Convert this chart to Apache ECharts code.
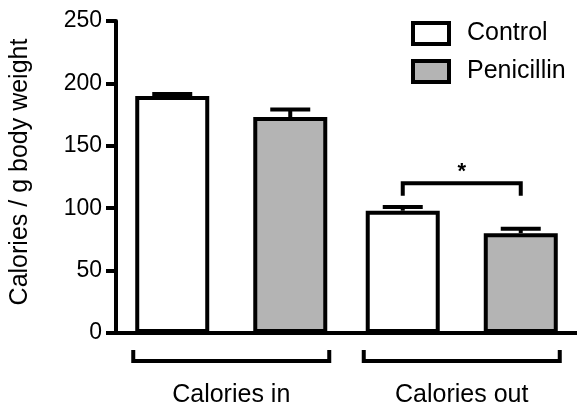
<!DOCTYPE html>
<html>
<head>
<meta charset="utf-8">
<title>Calories per gram body weight</title>
<script src="https://cdn.jsdelivr.net/npm/echarts@6/dist/echarts.min.js"></script>
<style>
  html, body { margin: 0; padding: 0; background: #fff; }
  #chart { width: 577px; height: 412px; }
</style>
</head>
<body>
<div id="chart"></div>
<script>
// ---- data ----
const categories = ['Calories in', 'Calories out'];
const seriesNames = ['Control', 'Penicillin'];
const controlMean = [190, 98];
const controlSem = [1.5, 3];
const penicillinMean = [173, 80];
const penicillinSem = [6, 3.5];
const yMin = 0;
const yMax = 250;
const yStep = 50;
const yTitle = 'Calories / g body weight';
// significance marker between the two groups of "Calories out"
const sigCategory = 1;
const sigTop = 120;
const sigFoot = 110;
const sigLabel = '*';

// ---- layout / style ----
const FONT = "'Liberation Sans', Arial, Helvetica, sans-serif";
const STROKE = 4;
const BAR_W = 74;
const BAR_GAP = 44;
const OFFSET = (BAR_W + BAR_GAP) / 2;
const CAP_HALF = 20;

const chart = echarts.init(document.getElementById('chart'), null, { renderer: 'canvas' });

function errorBarSeries(name, means, sems, dir) {
  return {
    name: name,
    type: 'custom',
    z: 5,
    silent: true,
    data: means.map((m, i) => [i, m, sems[i]]),
    encode: { x: 0, y: 1 },
    renderItem: function (params, api) {
      const base = api.coord([api.value(0), api.value(1)]);
      const top = api.coord([api.value(0), api.value(1) + api.value(2)]);
      const x = base[0] + dir * OFFSET;
      const style = { stroke: '#000', lineWidth: STROKE, fill: null };
      return {
        type: 'group',
        children: [
          { type: 'line', shape: { x1: x, y1: base[1], x2: x, y2: top[1] }, style: style },
          { type: 'line', shape: { x1: x - CAP_HALF, y1: top[1], x2: x + CAP_HALF, y2: top[1] }, style: style }
        ]
      };
    }
  };
}

const option = {
  animation: false,
  backgroundColor: '#fff',
  grid: { left: 116, right: -3, top: 21, bottom: 79, containLabel: false },
  legend: {
    data: seriesNames,
    orient: 'vertical',
    left: 411,
    top: 21,
    padding: 0,
    icon: 'rect',
    itemWidth: 36,
    itemHeight: 21,
    itemGap: 13,
    itemStyle: { borderColor: '#000', borderWidth: STROKE },
    textStyle: { fontFamily: FONT, fontSize: 25, color: '#000', lineHeight: 25, padding: [0, 0, 0, 13] },
    selectedMode: false
  },
  xAxis: {
    type: 'category',
    data: categories,
    axisLine: { lineStyle: { color: '#000', width: STROKE } },
    axisTick: { show: false },
    axisLabel: { fontFamily: FONT, fontSize: 25, color: '#000', margin: 50 },
    splitLine: { show: false }
  },
  yAxis: {
    type: 'value',
    min: yMin,
    max: yMax,
    interval: yStep,
    axisLine: { show: true, lineStyle: { color: '#000', width: STROKE } },
    axisTick: { show: true, length: 10, lineStyle: { color: '#000', width: STROKE } },
    axisLabel: { fontFamily: FONT, fontSize: 23, color: '#000', margin: 14 },
    splitLine: { show: false }
  },
  graphic: [
    {
      type: 'text',
      x: 20,
      y: 172,
      rotation: Math.PI / 2,
      style: {
        text: yTitle,
        font: '25px ' + FONT,
        fill: '#000',
        textAlign: 'center',
        textVerticalAlign: 'middle'
      }
    }
  ],
  series: [
    {
      name: seriesNames[0],
      type: 'bar',
      data: controlMean,
      barWidth: BAR_W,
      barGap: (BAR_GAP / BAR_W * 100).toFixed(1) + '%',
      itemStyle: { color: '#ffffff', borderColor: '#000', borderWidth: STROKE }
    },
    {
      name: seriesNames[1],
      type: 'bar',
      data: penicillinMean,
      barWidth: BAR_W,
      barGap: (BAR_GAP / BAR_W * 100).toFixed(1) + '%',
      itemStyle: { color: '#b4b4b4', borderColor: '#000', borderWidth: STROKE }
    },
    errorBarSeries('Control SEM', controlMean, controlSem, -1),
    errorBarSeries('Penicillin SEM', penicillinMean, penicillinSem, 1),
    {
      // group brackets under the axis
      name: 'group brackets',
      type: 'custom',
      silent: true,
      clip: false,
      data: categories.map((c, i) => [i, 0]),
      encode: { x: 0, y: 1 },
      renderItem: function (params, api) {
        const p = api.coord([api.value(0), 0]);
        const half = BAR_W + BAR_GAP / 2 + STROKE / 2;
        const yTop = p[1] + 17;
        const yBot = p[1] + 28;
        return {
          type: 'polyline',
          shape: { points: [[p[0] - half, yTop], [p[0] - half, yBot], [p[0] + half, yBot], [p[0] + half, yTop]] },
          style: { stroke: '#000', lineWidth: STROKE, fill: null, lineJoin: 'miter' }
        };
      }
    },
    {
      // significance bracket
      name: 'significance',
      type: 'custom',
      silent: true,
      z: 6,
      data: [[sigCategory, sigTop, sigFoot]],
      encode: { x: 0, y: 1 },
      renderItem: function (params, api) {
        const t = api.coord([api.value(0), api.value(1)]);
        const f = api.coord([api.value(0), api.value(2)]);
        const xl = t[0] - OFFSET;
        const xr = t[0] + OFFSET;
        return {
          type: 'group',
          children: [
            {
              type: 'polyline',
              shape: { points: [[xl, f[1]], [xl, t[1]], [xr, t[1]], [xr, f[1]]] },
              style: { stroke: '#000', lineWidth: STROKE, fill: null, lineJoin: 'miter' }
            },
            {
              type: 'text',
              x: t[0],
              y: t[1] - 11,
              style: {
                text: sigLabel,
                font: 'bold 22px ' + FONT,
                fill: '#000',
                textAlign: 'center',
                textVerticalAlign: 'middle'
              }
            }
          ]
        };
      }
    }
  ]
};

chart.setOption(option);
</script>
</body>
</html>
